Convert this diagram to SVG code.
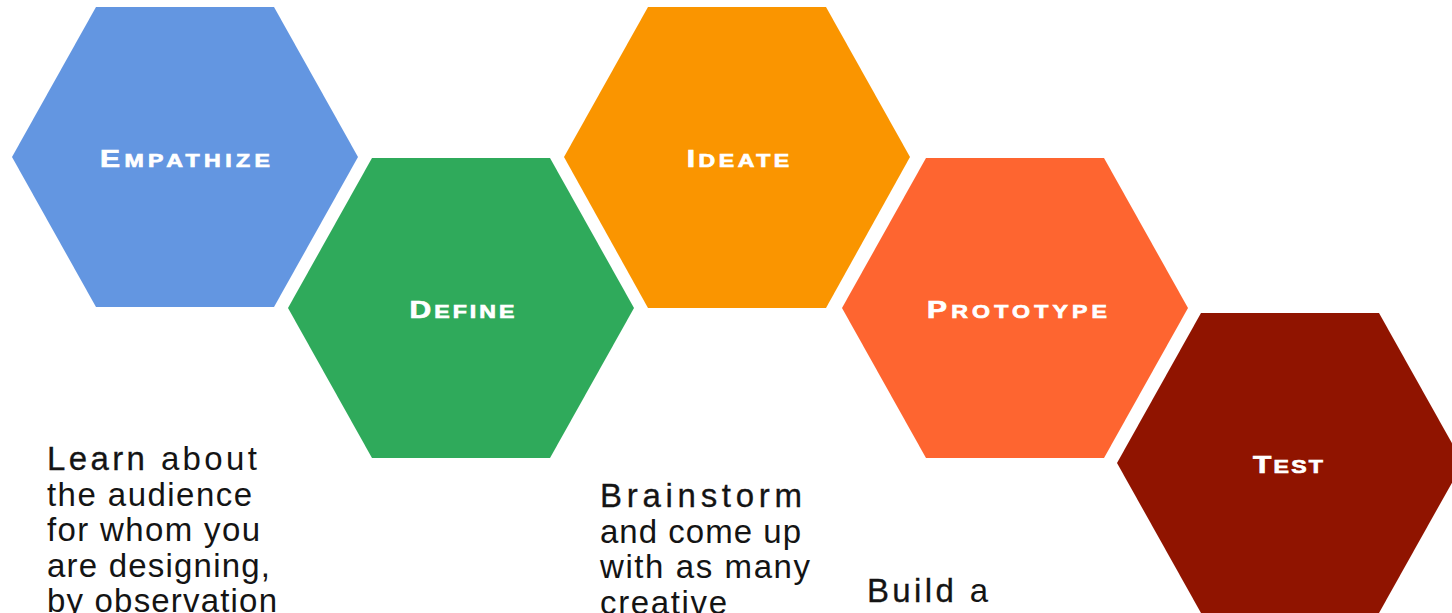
<svg xmlns="http://www.w3.org/2000/svg" width="1452" height="613" viewBox="0 0 1452 613">
<style>
.hex{stroke:none}
.lbl{font-family:"Liberation Sans",Arial,sans-serif;font-weight:bold;fill:#ffffff;stroke:#ffffff;stroke-width:0.7;text-anchor:middle}
.big{font-size:24px}
.sm{font-size:18.5px}
.body{font-family:"Liberation Sans",Arial,sans-serif;font-size:33px;fill:#141414}
.em{stroke:#141414;stroke-width:0.3}
</style>
<rect width="1452" height="613" fill="#ffffff"/>
<g id="empathize">
<polygon class="hex" fill="#6396E1" points="12,157 96,7 274,7 358,157 274,307 96,307"/>
<text class="lbl" transform="translate(185,167) scale(1.25,1)" x="0" y="0" textLength="136" lengthAdjust="spacing"><tspan class="big">E</tspan><tspan class="sm">MPATHIZE</tspan></text>
</g>
<g id="define">
<polygon class="hex" fill="#2FAA5B" points="288,308 372,158 550,158 634,308 550,458 372,458"/>
<text class="lbl" transform="translate(462,318) scale(1.25,1)" x="0" y="0" textLength="84" lengthAdjust="spacing"><tspan class="big">D</tspan><tspan class="sm">EFINE</tspan></text>
</g>
<g id="ideate">
<polygon class="hex" fill="#FA9500" points="564,157 648,7 826,7 910,157 826,308 648,308"/>
<text class="lbl" transform="translate(738,167) scale(1.25,1)" x="0" y="0" textLength="82" lengthAdjust="spacing"><tspan class="big">I</tspan><tspan class="sm">DEATE</tspan></text>
</g>
<g id="prototype">
<polygon class="hex" fill="#FE6530" points="842,308 926,158 1104,158 1188,308 1104,458 926,458"/>
<text class="lbl" transform="translate(1017,318) scale(1.25,1)" x="0" y="0" textLength="144" lengthAdjust="spacing"><tspan class="big">P</tspan><tspan class="sm">ROTOTYPE</tspan></text>
</g>
<g id="test">
<polygon class="hex" fill="#901400" points="1117,463 1201,313 1379,313 1463,463 1379,613 1201,613"/>
<text class="lbl" transform="translate(1288,473) scale(1.25,1)" x="0" y="0" textLength="56" lengthAdjust="spacing"><tspan class="big">T</tspan><tspan class="sm">EST</tspan></text>
</g>
<g id="connectors"/>
<g id="empathize-text">
<text class="body" x="47" y="470" textLength="210" lengthAdjust="spacing"><tspan class="em">Learn</tspan> about</text>
<text class="body" x="47" y="506" textLength="205" lengthAdjust="spacing">the audience</text>
<text class="body" x="47" y="541" textLength="213" lengthAdjust="spacing">for whom you</text>
<text class="body" x="47" y="577" textLength="223" lengthAdjust="spacing">are designing,</text>
<text class="body" x="47" y="612" textLength="230" lengthAdjust="spacing">by observation</text>
</g>
<g id="ideate-text">
<text class="body" x="600" y="507" textLength="202" lengthAdjust="spacing"><tspan class="em">Brainstorm</tspan></text>
<text class="body" x="600" y="543" textLength="201" lengthAdjust="spacing">and come up</text>
<text class="body" x="600" y="578" textLength="210" lengthAdjust="spacing">with as many</text>
<text class="body" x="600" y="614" textLength="127" lengthAdjust="spacing">creative</text>
</g>
<g id="prototype-text">
<text class="body" x="867" y="602" textLength="121" lengthAdjust="spacing"><tspan class="em">Build</tspan> a</text>
</g>
</svg>
